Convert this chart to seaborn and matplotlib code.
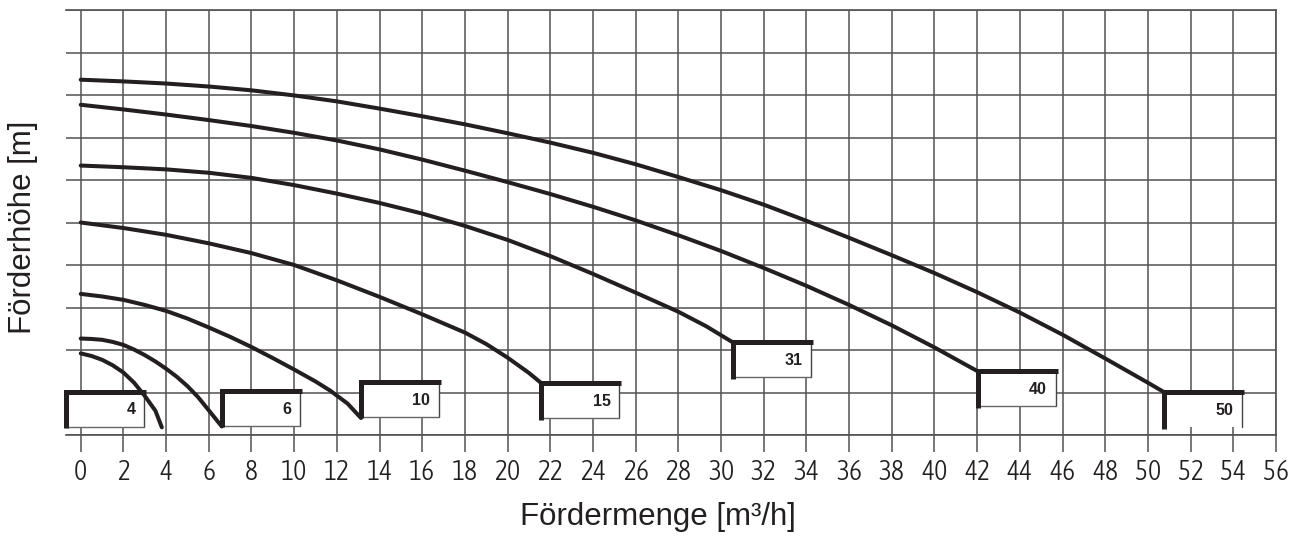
import matplotlib
matplotlib.use('Agg')
import matplotlib.pyplot as plt
import matplotlib.font_manager as fm
from matplotlib.patches import Rectangle
import pandas as pd
import seaborn as sns

# ─────────────────────────────────────────
# DATA  (Q in m3/h, H in grid units)
# ─────────────────────────────────────────
pump_labels = ['4', '6', '10', '15', '31', '40', '50']

q_4 = [0, 0.5, 1, 1.5, 2, 2.5, 3, 3.5, 3.8]
h_4 = [1.92, 1.86, 1.77, 1.64, 1.47, 1.23, 0.92, 0.57, 0.18]

q_6 = [0, 0.5, 1, 1.5, 2, 2.5, 3, 3.5, 4, 4.5, 5, 5.5, 6, 6.61]
h_6 = [2.27, 2.26, 2.24, 2.19, 2.12, 2.01, 1.88, 1.73, 1.56, 1.37, 1.15,
       0.89, 0.58, 0.2]

q_10 = [0, 1, 2, 3, 4, 5, 6, 7, 8, 9, 10, 11, 11.7, 12.5, 13.13]
h_10 = [3.32, 3.26, 3.18, 3.06, 2.92, 2.74, 2.53, 2.31, 2.07, 1.81, 1.54,
        1.26, 1.04, 0.74, 0.4]

q_15 = [0, 2, 4, 6, 8, 10, 12, 14, 16, 18, 19, 20, 21, 21.58]
h_15 = [5.0, 4.87, 4.71, 4.51, 4.28, 4.0, 3.64, 3.25, 2.84, 2.41, 2.14, 1.82,
        1.46, 1.22]

q_31 = [0, 2, 4, 6, 8, 10, 12, 14, 16, 18, 20, 22, 24, 26, 28, 29.3, 30.55]
h_31 = [6.34, 6.30, 6.25, 6.17, 6.05, 5.88, 5.68, 5.46, 5.21, 4.92, 4.59,
        4.21, 3.79, 3.35, 2.9, 2.56, 2.18]

q_40 = [0, 2, 4, 6, 8, 10, 12, 14, 16, 18, 20, 22, 24, 26, 28, 30, 32, 34,
        36, 38, 40, 42.02]
h_40 = [7.77, 7.66, 7.54, 7.41, 7.27, 7.11, 6.93, 6.72, 6.48, 6.22, 5.95,
        5.67, 5.37, 5.05, 4.70, 4.33, 3.93, 3.51, 3.06, 2.58, 2.06, 1.5]

q_50 = [0, 2, 4, 6, 8, 10, 12, 14, 16, 18, 20, 22, 24, 26, 28, 30, 32, 34,
        36, 38, 40, 42, 44, 46, 48, 50, 50.75]
h_50 = [8.36, 8.32, 8.27, 8.2, 8.11, 7.99, 7.85, 7.68, 7.5, 7.31, 7.1, 6.88,
        6.64, 6.37, 6.07, 5.76, 5.42, 5.04, 4.64, 4.23, 3.81, 3.36, 2.88, 2.36,
        1.8, 1.23, 1.01]

# type plates: top-left corner of each plate
box_q = [-0.69, 6.61, 13.13, 21.58, 30.55, 42.02, 50.75]
box_h = [1.02, 1.04, 1.25, 1.22, 2.18, 1.5, 1.01]
box_closed = [True, True, True, True, True, True, False]

x_ticks = list(range(0, 57, 2))

curves = pd.concat([
    pd.DataFrame({'Q': q, 'H': h, 'pump': lab})
    for lab, q, h in zip(pump_labels,
                         [q_4, q_6, q_10, q_15, q_31, q_40, q_50],
                         [h_4, h_6, h_10, h_15, h_31, h_40, h_50])
], ignore_index=True)


# ─────────────────────────────────────────
# condensed, light font for the tick numbers (first one installed)
# ─────────────────────────────────────────
def pick_condensed(size):
    def wnum(w):
        if isinstance(w, int):
            return w
        return {'thin': 100, 'extra-light': 200, 'light': 300, 'normal': 400,
                'regular': 400, 'book': 400,
                'medium': 500}.get(str(w).lower(), 700)

    cands = []
    for f in fm.fontManager.ttflist:
        narrow = ('Narrow' in f.name or 'Condensed' in f.name
                  or f.stretch in ('condensed', 'semi-condensed',
                                   'extra-condensed'))
        if narrow and f.style == 'normal' and 250 <= wnum(f.weight) <= 400:
            rank = 0 if 'Narrow' in f.name else 1
            cands.append((abs(wnum(f.weight) - 300), rank, f.fname))
    if cands:
        cands.sort()
        return fm.FontProperties(fname=cands[0][2], size=size)
    return fm.FontProperties(family='Roboto', weight='light', size=size - 3)


# ─────────────────────────────────────────
# STYLE
# ─────────────────────────────────────────
sns.set_theme(style='white')
plt.rcParams['font.family'] = ['Liberation Sans', 'DejaVu Sans']

INK = '#231f20'
GRID = '#525252'
BOX_W, BOX_H = 3.65, 0.82

fig = plt.figure(figsize=(13.01, 5.37), dpi=100)
ax = fig.add_axes([66 / 1301, 1 - 435 / 537, 1210 / 1301, 425 / 537])

sns.lineplot(data=curves, x='Q', y='H', units='pump', estimator=None,
             sort=False, color=INK, linewidth=2.9, legend=False, ax=ax,
             zorder=6, solid_joinstyle='round')

# type plates
for lab, q0, h0, closed in zip(pump_labels, box_q, box_h, box_closed):
    ax.add_patch(Rectangle((q0, h0 - BOX_H), BOX_W, BOX_H, facecolor='white',
                           edgecolor='none', zorder=3, clip_on=False))
    ax.plot([q0 + BOX_W, q0 + BOX_W], [h0, h0 - BOX_H], color='#444444',
            lw=1.0, zorder=4)
    if closed:
        ax.plot([q0, q0 + BOX_W], [h0 - BOX_H, h0 - BOX_H], color='#666666',
                lw=1.0, zorder=4)
    ax.plot([q0, q0, q0 + BOX_W + 0.1], [h0 - 0.86, h0, h0], color=INK,
            lw=3.6, zorder=5, solid_joinstyle='miter', solid_capstyle='butt',
            clip_on=False)
    ax.text(q0 + BOX_W - 0.4, h0 - BOX_H / 2 - 0.02, lab, ha='right',
            va='center', fontsize=11.5, fontweight='bold', color=INK, zorder=7)

# grid / axes
ax.set_xlim(-0.69, 56)
ax.set_ylim(0, 10)
ax.set_xticks(x_ticks)
ax.set_xticklabels([str(t) for t in x_ticks], fontproperties=pick_condensed(20),
                   color=INK)
ax.set_yticks(range(0, 11))
ax.set_yticklabels([])
ax.grid(True, color=GRID, linewidth=1.1)
ax.set_axisbelow(True)
for side in ['top', 'bottom', 'right']:
    ax.spines[side].set_visible(True)
    ax.spines[side].set_color(GRID)
    ax.spines[side].set_linewidth(1.2)
ax.spines['left'].set_visible(False)
ax.tick_params(axis='x', bottom=True, length=12, width=1.1, color=GRID,
               direction='out', pad=5)
ax.tick_params(axis='y', left=False, length=0)
ax.set_xlabel('')
ax.set_ylabel('')

fig.text(658 / 1301, 1 - 517 / 537, 'Fördermenge [m³/h]', ha='center',
         va='center', fontsize=22.5, color=INK)
fig.text(23 / 1301, 1 - 227 / 537, 'Förderhöhe [m]', ha='center',
         va='center', rotation=90, fontsize=22.5, color=INK)

plt.savefig('out.png', dpi=100)
plt.close()
